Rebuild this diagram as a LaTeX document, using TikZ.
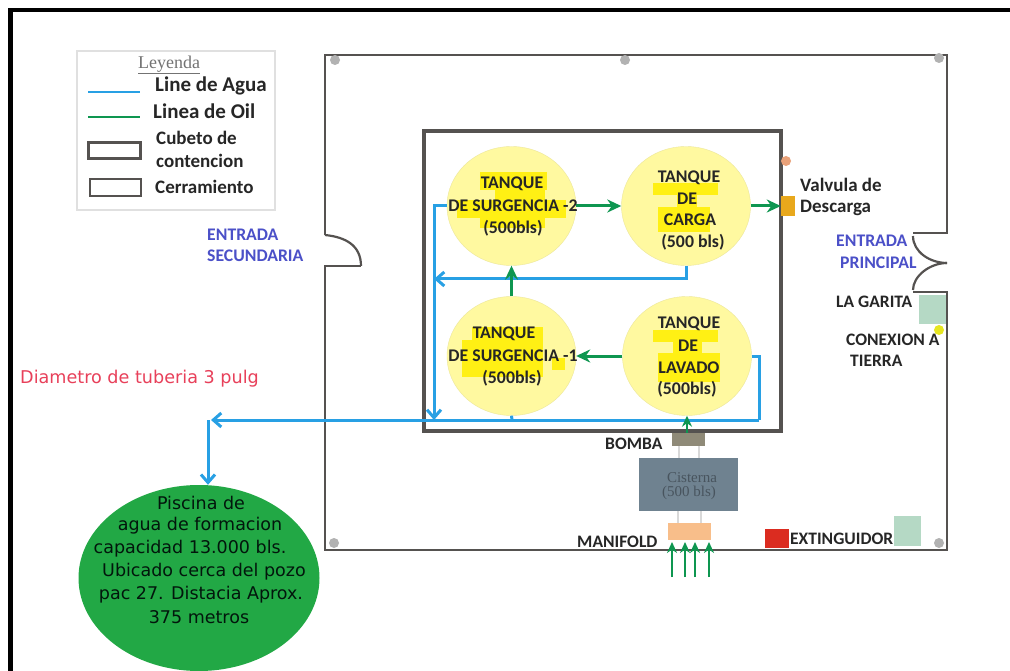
\documentclass[tikz,border=0pt]{standalone}
\usepackage{fontspec}
\setmainfont{Carlito}
\newfontfamily\tahomafont{DejaVu Sans}
\newfontfamily\leyendafont{Liberation Serif}
\usepackage{tikz}
\usetikzlibrary{arrows.meta, positioning, shapes.geometric}
\definecolor{myagua}{RGB}{40,160,228}
\definecolor{myoil}{RGB}{14,150,80}
\definecolor{mymuro}{RGB}{85,82,80}
\definecolor{mytanque}{RGB}{255,249,160}
\definecolor{myresalte}{RGB}{255,240,20}
\definecolor{myentrada}{RGB}{75,80,200}
\definecolor{mypalido}{RGB}{181,217,197}
\definecolor{mypiscina}{RGB}{34,168,69}
\definecolor{myvalvula}{RGB}{232,168,28}
\definecolor{mybomba}{RGB}{143,138,120}
\definecolor{mycisterna}{RGB}{111,130,144}
\definecolor{mymanifold}{RGB}{248,190,138}
\definecolor{myextintor}{RGB}{219,44,32}
\definecolor{mynaranja}{RGB}{233,162,122}
\definecolor{mytierra}{RGB}{230,230,32}
\definecolor{mydiametro}{RGB}{232,64,90}
\tikzset{
  agua/.style={myagua, line width=3pt},
  abierta/.style={-{Straight Barb[length=8pt,width=14pt]}},
  oil/.style={myoil, line width=3pt, -{Stealth[length=14pt,width=13pt]}},
  oilfino/.style={myoil, line width=2.8pt, -{Stealth[length=11pt,width=10pt]}},
  tanque/.style={ellipse, fill=mytanque, draw=mytanque!85!gray, inner sep=0pt, minimum width=129pt, minimum height=119pt},
  caja/.style={rectangle, inner sep=0pt},
  muro/.style={mymuro, line width=2.2pt},
  etiqueta/.style={font=\bfseries\fontsize{17.5}{20}\selectfont, inner sep=0pt, anchor=west, yshift=-1pt, text=black!85},
  leyenda/.style={font=\bfseries\fontsize{19}{22}\selectfont, inner sep=0pt, anchor=west, yshift=-1pt, text=black!85},
  leyendagr/.style={leyenda, font=\bfseries\fontsize{21}{24}\selectfont},
  entrada/.style={font=\bfseries\fontsize{17.7}{20}\selectfont, inner sep=0pt, anchor=west, yshift=-1pt, text=myentrada},
  rotulo/.style={font=\bfseries\fontsize{17.8}{20}\selectfont, inner sep=0pt, yshift=-1pt, text=black!85},
  piscinatxt/.style={font=\tahomafont\fontsize{17.5}{20}\selectfont, inner sep=0pt, text=black!85!myoil},
  cisternatxt/.style={font=\leyendafont\fontsize{15}{15}\selectfont, inner sep=0pt, text=black!35!mycisterna},
  soporte/.style={black!15, line width=1.2pt},
  punto/.style={circle, inner sep=0pt, minimum size=10pt}
}
\begin{document}
\begin{tikzpicture}[x=1pt, y=-1pt]
  \useasboundingbox (0,0) rectangle (1010,671);
  \fill[white] (0,0) rectangle (1010,671);
  % Marco
  \draw[black, line width=4.5pt] (1010,10) -- (10.5,10) -- (10.5,671);
  % Leyenda
  \draw[black!12, fill=white, line width=1.2pt] (77,51) rectangle (275,210);
  \node[font=\leyendafont\fontsize{18}{20}\selectfont, text=black!55, inner sep=0pt] (tituloLey) at (169,65) {\underline{Leyenda}};
  \draw[myagua, line width=2.8pt] (88,92) -- (140,92);
  \draw[myoil, line width=2.8pt] (88,117) -- (140,117);
  \draw[mymuro, line width=3pt] (88.5,142.5) rectangle (140,159);
  \draw[mymuro, line width=2.6pt] (90,179) rectangle (141,196);
  \node[leyendagr] (leyAgua) at (155,85) {Line de Agua};
  \node[leyendagr] (leyOil) at (153,110) {Linea de Oil};
  \node[leyenda] (leyCubeto) at (156,137) {Cubeto de};
  \node[leyenda] (leyCubetoB) at (156,160) {contencion};
  \node[leyenda] (leyCerr) at (155,186) {Cerramiento};
  % Cerramiento
  \draw[muro] (325,235) -- (325,55) -- (947,55) -- (947,233) -- (913,233);
  \draw[muro] (913,292) -- (947,292) -- (947,550) -- (325,550) -- (325,266) -- (361,266);
  \draw[muro] (325,235) .. controls (345,237) and (361,245) .. (361,266);
  \draw[muro] (913,236) .. controls (913,252) and (930,263) .. (947,263);
  \draw[muro] (913,290) .. controls (913,276) and (930,263) .. (947,263);
  \foreach \px/\py in {335/60, 625/60, 939/58, 334/543, 939/543}
    \fill[black!30] (\px,\py) circle (5);
  % Cubeto
  \draw[mymuro, line width=3.5pt] (424,131) rectangle (781,431);
  % Tanques
  \node[tanque] (tanqueSdos) at (511.5,206) {};
  \node[tanque] (tanqueCarga) at (686,206) {};
  \node[tanque] (tanqueSuno) at (511.5,356) {};
  \node[tanque] (tanqueLavado) at (687,356) {};
  % Resaltado
  \foreach \xa/\ya/\xb/\yb in {480/172/547/190, 495/190/545/200, 457/200/566/218, 480/218/545/228,
      653/183/718/195, 677/195/697/207, 658/207/710/232,
      472/327/543/340, 462/340/543/377, 552/358/565/370,
      653/330/718/342, 673/342/702/353, 658/353/720/382}
    \fill[myresalte] (\xa,\ya) rectangle (\xb,\yb);
  % Textos de tanques
  \node[rotulo] (txtSdosA) at (512,183) {TANQUE};
  \node[rotulo] (txtSdosB) at (513,205) {DE SURGENCIA -2};
  \node[rotulo] (txtSdosC) at (513,227) {(500bls)};
  \node[rotulo] (txtCargaA) at (689,177) {TANQUE};
  \node[rotulo] (txtCargaB) at (687,198) {DE};
  \node[rotulo] (txtCargaC) at (690,219) {CARGA};
  \node[rotulo] (txtCargaD) at (693,241) {(500 bls)};
  \node[rotulo] (txtSunoA) at (504,333) {TANQUE};
  \node[rotulo] (txtSunoB) at (513,355) {DE SURGENCIA -1};
  \node[rotulo] (txtSunoC) at (512,377) {(500bls)};
  \node[rotulo] (txtLavadoA) at (689,323) {TANQUE};
  \node[rotulo] (txtLavadoB) at (688,345) {DE};
  \node[rotulo] (txtLavadoC) at (689,367) {LAVADO};
  \node[rotulo] (txtLavadoD) at (687,388) {(500bls)};
  % Equipos
  \node[caja, fill=myvalvula, minimum width=14pt, minimum height=20pt] (valvula) at (788,206) {};
  \node[caja, fill=mybomba, minimum width=33pt, minimum height=13pt] (bomba) at (688.5,439.5) {};
  \node[caja, fill=mycisterna, minimum width=99pt, minimum height=53pt] (cisterna) at (688.5,484.5) {};
  \node[cisternatxt] (cisternaA) at (692,477.5) {Cisterna};
  \node[cisternatxt] (cisternaB) at (689,492.5) {(500 bls)};
  \node[caja, fill=mymanifold, minimum width=43pt, minimum height=17pt] (manifold) at (689.5,531.5) {};
  \node[caja, fill=myextintor, minimum width=24pt, minimum height=19pt] (extintor) at (777,538.5) {};
  \node[caja, fill=mypalido, minimum width=27pt, minimum height=30pt] (cuadroSur) at (907.5,531) {};
  \node[caja, fill=mypalido, minimum width=27pt, minimum height=29pt] (garita) at (932.5,309.5) {};
  \node[punto, fill=mytierra] (tierra) at (939,330) {};
  \node[punto, fill=mynaranja] (puntoNaranja) at (786,161) {};
  \draw[soporte] (679,446) -- (679,458);
  \draw[soporte] (699,446) -- (699,458);
  \draw[soporte] (678,511) -- (678,523);
  \draw[soporte] (701,511) -- (701,523);
  % Piscina
  \node[ellipse, fill=mypiscina, inner sep=0pt, minimum width=241pt, minimum height=186pt] (piscina) at (199,578) {};
  \node[piscinatxt] (pisA) at (201,503) {Piscina de};
  \node[piscinatxt] (pisB) at (200,526) {agua de formacion};
  \node[piscinatxt] (pisC) at (190,549) {capacidad 13.000 bls.};
  \node[piscinatxt] (pisD) at (204,572) {Ubicado cerca del pozo};
  \node[piscinatxt] (pisE) at (201,595) {pac 27. Distacia Aprox.};
  \node[piscinatxt] (pisF) at (199,617) {375 metros};
  % Lineas de agua
  \coordinate (bajada) at (434,420);
  \coordinate (retorno) at (434,279);
  \coordinate (lateral) at (759,420);
  \coordinate (llegada) at (211,420);
  \coordinate (codo) at (208,420);
  \coordinate (salidaS) at (512,420);
  \draw[agua, abierta] (tanqueSdos.west) -| (bajada);
  \draw[agua, abierta] (tanqueCarga.south) |- (retorno);
  \draw[agua] (tanqueLavado.east) -| (lateral);
  \draw[agua, abierta] (lateral) -- (llegada);
  \draw[agua, abierta] (codo) -- (codo |- piscina.north);
  \draw[agua] (tanqueSuno.south) -- (salidaS);
  % Lineas de oil
  \draw[oil] (tanqueSdos.east) -- (tanqueCarga.west);
  \draw[oil] (tanqueCarga.east) -- (valvula.west);
  \draw[oil] (tanqueSuno.north) -- (tanqueSdos.south);
  \draw[oil] (tanqueLavado.west) -- (tanqueSuno.east);
  \draw[oilfino] (bomba.north -| tanqueLavado.south) -- (tanqueLavado.south);
  \foreach \qx [count=\qi] in {672, 685, 695, 709} {
    \coordinate (pozo\qi) at (\qx,577);
    \coordinate (entra\qi) at (\qx,542);
    \draw[oilfino] (pozo\qi) -- (entra\qi);
  }
  % Etiquetas
  \node[leyenda] (lblValvula) at (800,184) {Valvula de};
  \node[leyenda] (lblDescarga) at (800,207) {Descarga};
  \node[etiqueta] (lblGarita) at (836,301) {LA GARITA};
  \node[etiqueta] (lblConexion) at (846,339) {CONEXION A};
  \node[etiqueta] (lblTierra) at (850,360) {TIERRA};
  \node[etiqueta] (lblBomba) at (605,443) {BOMBA};
  \node[etiqueta] (lblManifold) at (577,541) {MANIFOLD};
  \node[etiqueta] (lblExtintor) at (790,538) {EXTINGUIDOR};
  \node[entrada] (lblSecA) at (207,234) {ENTRADA};
  \node[entrada] (lblSecB) at (207,255) {SECUNDARIA};
  \node[entrada] (lblPrinA) at (836,240) {ENTRADA};
  \node[entrada] (lblPrinB) at (840,262) {PRINCIPAL};
  \node[font=\tahomafont\fontsize{17.6}{20}\selectfont, text=mydiametro, inner sep=0pt, anchor=west] (lblDiametro) at (20,379) {Diametro de tuberia 3 pulg};
\end{tikzpicture}
\end{document}
